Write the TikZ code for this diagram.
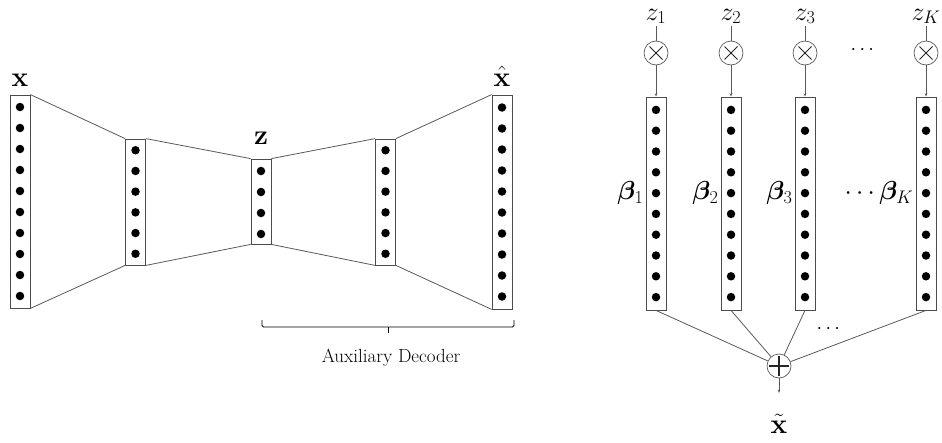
\RequirePackage{fix-cm}
\documentclass[tikz,border=0pt]{standalone}
\usepackage{amsmath,bm}
\usetikzlibrary{arrows.meta}
\begin{document}
\begin{tikzpicture}[x=1pt,y=-1pt,
  layer/.style={draw=black!70,line width=0.8pt,minimum width=20pt,inner sep=0pt},
  neuron/.style={circle,fill=black,inner sep=0pt,minimum size=8.5pt},
  conn/.style={draw=black!65,line width=0.8pt},
  arr/.style={conn,-{Stealth[length=3.5pt,width=2.6pt]}},
  mult/.style={circle,draw=black!65,line width=0.7pt,minimum size=24pt,inner sep=0pt,
    path picture={\draw[black!85,line width=0.8pt]
      ([shift={(-6.5pt,-6.5pt)}]path picture bounding box.center) -- ([shift={(6.5pt,6.5pt)}]path picture bounding box.center)
      ([shift={(-6.5pt,6.5pt)}]path picture bounding box.center) -- ([shift={(6.5pt,-6.5pt)}]path picture bounding box.center);}},
  plusop/.style={circle,draw=black!65,line width=0.7pt,minimum size=24pt,inner sep=0pt,
    path picture={\draw[black!85,line width=1.1pt]
      ([shift={(-10pt,0pt)}]path picture bounding box.center) -- ([shift={(10pt,0pt)}]path picture bounding box.center)
      ([shift={(0pt,-10pt)}]path picture bounding box.center) -- ([shift={(0pt,10pt)}]path picture bounding box.center);}},
  lbl/.style={font=\fontsize{26}{30}\selectfont,inner sep=1pt},
  zlbl/.style={font=\fontsize{26}{30}\selectfont,inner ysep=0pt,inner xsep=1pt},
  vlbl/.style={font=\fontsize{28}{32}\selectfont,inner sep=1pt},
  dotsl/.style={font=\fontsize{20}{24}\selectfont,inner sep=0pt}]
\useasboundingbox (0,0) rectangle (942,442);

% ---------- left: autoencoder ----------
\node[layer,minimum height=213pt] (L1) at (20,201.5) {};
\node[layer,minimum height=126pt] (L2) at (135.5,202) {};
\node[layer,minimum height=85pt]  (L3) at (261,201.5) {};
\node[layer,minimum height=126pt] (L4) at (385.5,202) {};
\node[layer,minimum height=214pt] (L5) at (502,202) {};
\foreach \i in {1,...,10} \node[neuron] (L1d\i) at (20,{201.5+(\i-5.5)*21}) {};
\foreach \i in {1,...,6}  \node[neuron] (L2d\i) at (135.5,{202+(\i-3.5)*20.7}) {};
\foreach \i in {1,...,4}  \node[neuron] (L3d\i) at (261,{202.5+(\i-2.5)*21}) {};
\foreach \i in {1,...,6}  \node[neuron] (L4d\i) at (385.5,{202+(\i-3.5)*20.7}) {};
\foreach \i in {1,...,10} \node[neuron] (L5d\i) at (502,{202+(\i-5.5)*21}) {};

\draw[conn] (L1.north east) -- (L2.north west) (L1.south east) -- (L2.south west);
\draw[conn] (L2.north east) -- (L3.north west) (L2.south east) -- (L3.south west);
\draw[conn] (L3.north east) -- (L4.north west) (L3.south east) -- (L4.south west);
\draw[conn] (L4.north east) -- (L5.north west) (L4.south east) -- (L5.south west);

\node[vlbl,anchor=base] (lx) at (20,86) {$\mathbf{x}$};
\node[vlbl,anchor=base] (lz) at (261,144) {$\mathbf{z}$};
\node[vlbl,anchor=base] (lxh) at (502,86) {$\hat{\mathbf{x}}$};

% brace
\coordinate (bl) at (262,320);
\coordinate (blb) at (262,327);
\coordinate (brb) at (514,327);
\coordinate (br) at (514,320);
\coordinate (bm) at (388,327);
\coordinate (bt) at (388,333);
\draw[line width=0.8pt,rounded corners=1.5pt] (bl) -- (blb) -- (brb) -- (br);
\draw[line width=0.8pt] (bm) -- (bt);
\node[font=\fontsize{19}{23}\selectfont] (aux) at (391,358) {Auxiliary Decoder};

% ---------- right: additive decoder ----------
\foreach \k/\x/\lab/\blab in {1/656/z_1/{\bm{\beta}_1},2/731/z_2/{\bm{\beta}_2},3/805/z_3/{\bm{\beta}_3},4/926/z_K/{\cdots\bm{\beta}_K}} {
  \node[zlbl,anchor=base] (z\k) at (\x,20) {$\lab$};
  \node[mult] (m\k) at (\x,53) {};
  \node[layer,minimum height=213pt] (C\k) at (\x,203.5) {};
  \foreach \i in {1,...,10} \node[neuron] (C\k d\i) at (\x,{203.5+(\i-5.5)*20.8}) {};
  \node[lbl,anchor=east] (b\k) at ([xshift=-1pt]C\k.west |- 0,193) {$\blab$};
  \draw[conn] ([yshift=-2pt]z\k.south) -- (m\k.north);
  \draw[arr] (m\k.south) -- (C\k.north);
}
\node[dotsl] (tdots) at (864,50) {$\cdots$};

\node[plusop] (sum) at (779,366) {};
\foreach \k in {1,...,4} \draw[conn] (C\k.south) -- (sum);
\node[dotsl] (bdots) at (830,329) {$\cdots$};
\coordinate (out) at (779,393);
\draw[arr] (sum.south) -- (out);
\node[vlbl,anchor=base] (xt) at (779,433) {$\tilde{\mathbf{x}}$};
\end{tikzpicture}
\end{document}
